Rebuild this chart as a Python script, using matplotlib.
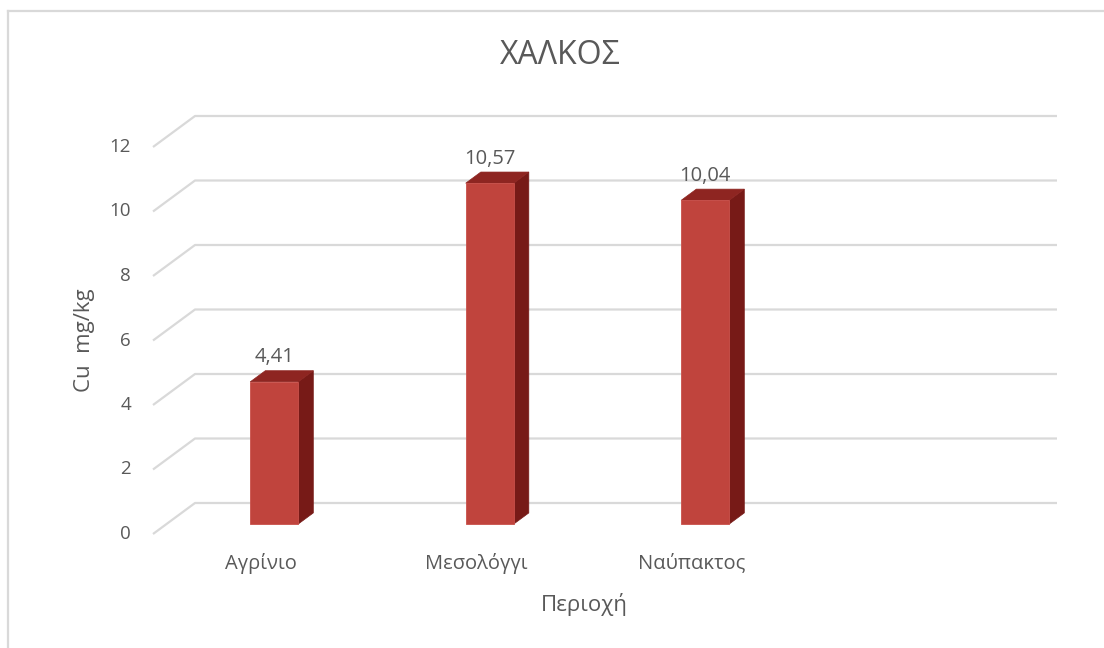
import matplotlib
matplotlib.use("Agg")
import matplotlib.pyplot as plt
from matplotlib.patches import Polygon, Rectangle

plt.rcParams['font.family'] = ['Open Sans', 'DejaVu Sans']

# data
categories = ["Αγρίνιο", "Μεσολόγγι", "Ναύπακτος", ""]
values = [4.41, 10.57, 10.04]
labels = ["4,41", "10,57", "10,04"]
yticks = [0, 2, 4, 6, 8, 10, 12]
title = "ΧΑΛΚΟΣ"
xlabel = "Περιοχή"
ylabel = "Cu  mg/kg"

text_col = "#595959"
grid_col = "#D9D9D9"
front_col = "#C0443D"
top_col = "#8E2521"
side_col = "#771A17"

W, H = 1104, 648
fig = plt.figure(figsize=(W / 100, H / 100), dpi=100)
ax = fig.add_axes([0, 0, 1, 1])

# pixel scale of the floor/front plane
x0_px, y0_px = 153, H - 534
cat_px = 215.5
val_px = 32.25
ax.set_xlim(-x0_px / cat_px, (W - x0_px) / cat_px)
ax.set_ylim(-y0_px / val_px, (H - y0_px) / val_px)
ax.axis("off")

# oblique depth offset (full depth of the box)
DX = 42 / cat_px
DY = 31 / val_px
ncat = len(categories)

# side and back wall gridlines
for v in yticks:
    ax.plot([0, DX, ncat + DX], [v, v + DY, v + DY], color=grid_col, lw=1.6,
            solid_capstyle="butt", zorder=1)
    ax.text(-22 / cat_px, v, str(v), ha="right", va="center", fontsize=13.5,
            color=text_col)

# 3D-looking bars
bw = 48 / cat_px
z0, z1 = 0.32, 0.68
for i, val in enumerate(values):
    xl = i + 0.5 - bw / 2 + z0 * DX
    xr = xl + bw
    by = z0 * DY
    dx = (z1 - z0) * DX
    dy = (z1 - z0) * DY
    ax.add_patch(Polygon([(xr, by), (xr + dx, by + dy), (xr + dx, by + dy + val),
                          (xr, by + val)], closed=True, fc=side_col, ec=side_col,
                         lw=0.5, zorder=3))
    ax.add_patch(Polygon([(xl, by + val), (xr, by + val), (xr + dx, by + val + dy),
                          (xl + dx, by + val + dy)], closed=True, fc=top_col,
                         ec=top_col, lw=0.5, zorder=3))
    ax.add_patch(Rectangle((xl, by), bw, val, fc=front_col, ec="#C9504A",
                           lw=0.6, zorder=4))
    ax.text(xl + bw / 2, by + val + dy + 0.1, labels[i], ha="center",
            va="bottom", fontsize=14.5, color=text_col, zorder=5)

# category labels
for i, c in enumerate(categories):
    ax.text(i + 0.5, -29 / val_px, c, ha="center", va="center", fontsize=14.5,
            color=text_col)

ax.text(ncat / 2, -71 / val_px, xlabel, ha="center", va="center", fontsize=16,
        color=text_col)
ax.text(-68 / cat_px, 6, ylabel, ha="center", va="center", rotation=90,
        fontsize=16, color=text_col)
fig.text(560 / W, 1 - 55 / H, title, ha="center", va="center", fontsize=23,
         color=text_col)

# chart area border
fig.add_artist(plt.Line2D([8 / W, 8 / W], [0, 1 - 11 / H], color=grid_col, lw=1.6))
fig.add_artist(plt.Line2D([8 / W, 1], [1 - 11 / H, 1 - 11 / H], color=grid_col, lw=1.6))

fig.savefig("out.png", dpi=100)
